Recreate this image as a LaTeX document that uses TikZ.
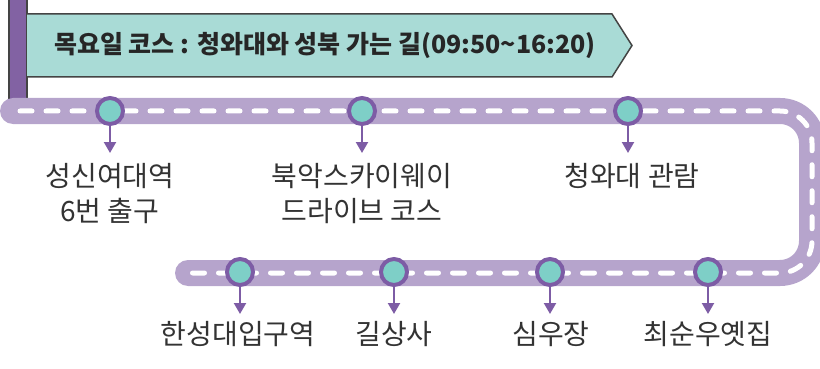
\documentclass[tikz,border=0pt]{standalone}
\usepackage{fontspec}
\setmainfont{Noto Sans CJK KR}
\usetikzlibrary{arrows.meta}
\definecolor{road}{HTML}{B6A4CC}
\definecolor{pole}{HTML}{8262A3}
\definecolor{ring}{HTML}{7D5CA5}
\definecolor{teal}{HTML}{7ECFC7}
\definecolor{banner}{HTML}{A9DBD6}
\definecolor{edge}{HTML}{444444}
\definecolor{txt}{HTML}{333333}
\tikzset{
  roadline/.style={line width=26pt, color=road, line cap=round, rounded corners=32pt},
  dashline/.style={line width=5pt, color=white, line cap=round, rounded corners=32pt, dash pattern=on 12pt off 14pt},
  station/.style={circle, draw=ring, fill=teal, line width=4pt, minimum size=26pt, inner sep=0pt},
  pointer/.style={draw=ring, line width=2.2pt, -{Triangle[width=12pt,length=11pt]}},
  lbl/.style={text=txt, align=center, font=\fontsize{28}{35}\selectfont, inner sep=0pt},
}
\begin{document}
\begin{tikzpicture}[x=1pt,y=-1pt]
\useasboundingbox (0,0) rectangle (820,369);
% pole
\draw[fill=pole, draw=edge, line width=1.5pt] (9,-5) rectangle (27,100);
% banner
\draw[fill=banner, draw=edge, line width=1.5pt] (27,14) -- (612,14) -- (632,45.5) -- (612,77) -- (27,77);
\node[text=black!85, font=\bfseries\fontsize{25}{27}\selectfont, inner sep=0pt] (title) at (325,45) {목요일 코스 : 청와대와 성북 가는 길(09:50\textasciitilde16:20)};
% road
\draw[roadline] (13,111) -- (812,111) -- (812,273) -- (188,273);
\draw[dashline] (20,111) -- (812,111) -- (812,273) -- (190,273);
% stations
\node[station] (s1) at (110,111) {};
\node[station] (s2) at (362,111) {};
\node[station] (s3) at (628,111) {};
\node[station] (s4) at (240,272) {};
\node[station] (s5) at (394,272) {};
\node[station] (s6) at (550,272) {};
\node[station] (s7) at (708,272) {};
\foreach \i/\x in {1/110,2/362,3/628}{\coordinate (a\i) at (\x,153);}
\foreach \i/\x in {4/240,5/394,6/550,7/708}{\coordinate (a\i) at (\x,314);}
\foreach \i in {1,...,7}{\draw[pointer] (s\i) -- (a\i);}
% labels
\node[lbl] (l1) at (110,193.5) {성신여대역\\6번 출구};
\node[lbl] (l2) at (362,193.5) {북악스카이웨이\\드라이브 코스};
\node[lbl] (l3) at (632,176) {청와대 관람};
\node[lbl] (l4) at (238,334) {한성대입구역};
\node[lbl] (l5) at (394,334) {길상사};
\node[lbl] (l6) at (551,334) {심우장};
\node[lbl] (l7) at (708,334) {최순우옛집};
\end{tikzpicture}
\end{document}
